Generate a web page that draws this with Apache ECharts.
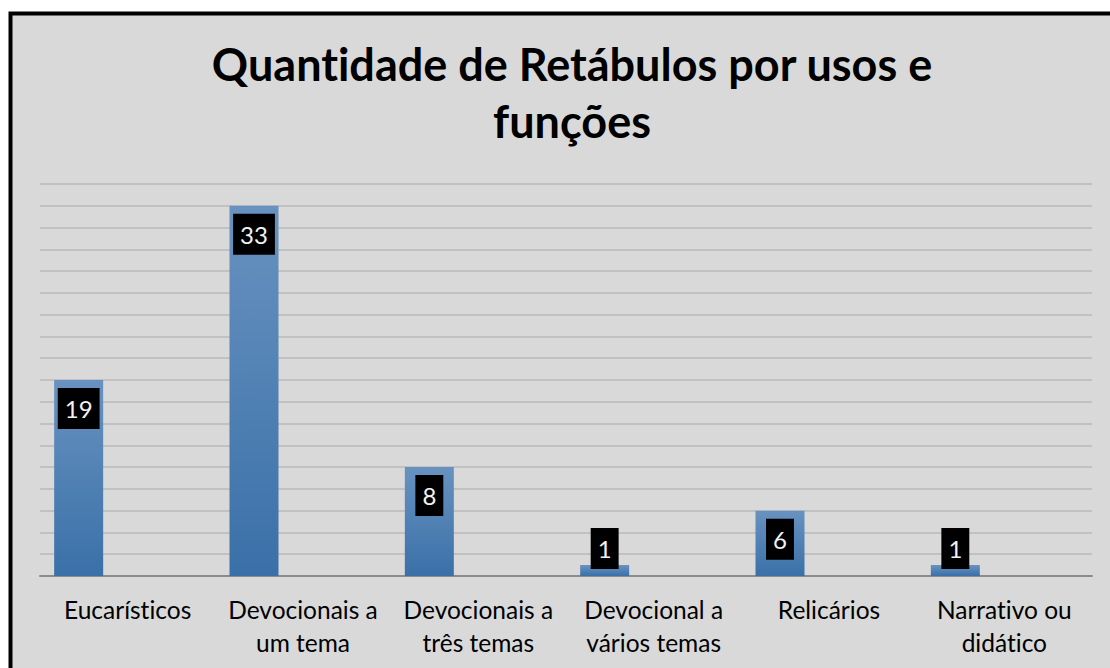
<!DOCTYPE html>
<html>
<head>
<meta charset="utf-8">
<script src="https://cdn.jsdelivr.net/npm/echarts@6/dist/echarts.min.js"></script>
<style>
html,body{margin:0;padding:0;background:#fff;}
#c{width:1110px;height:668px;}
#c text{font-variant-ligatures:none !important;font-feature-settings:"liga" 0, "clig" 0 !important;}
</style>
</head>
<body>
<div id="c"></div>
<script>
const titleText = 'Quantidade de Retábulos por usos e\nfunções';
const categories = ['Eucarísticos', 'Devocionais a\num tema', 'Devocionais a\ntrês temas', 'Devocional a\nvários temas', 'Relicários', 'Narrativo ou\ndidático'];
// bar heights as drawn in the picture
const barValues = [18, 34, 10, 1, 6, 1];
// data labels as printed on the bars
const labelTexts = ['19', '33', '8', '1', '6', '1'];
const axisMin = 0;
const axisMax = 36;
const axisInterval = 2;

const chart = echarts.init(document.getElementById('c'), null, {renderer: 'svg'});

const data = barValues.map((v, i) => {
  const small = v < 3;
  return {
    value: v,
    label: small ? {position: 'insideBottom', distance: 7} : {position: 'insideTop', distance: 8}
  };
});

chart.setOption({
  backgroundColor: '#ffffff',
  animation: false,
  graphic: [{
    type: 'rect',
    z: -10,
    silent: true,
    shape: {x: 10.5, y: 13.5, width: 1200, height: 800},
    style: {fill: '#d9d9d9', stroke: '#000000', lineWidth: 4}
  }],
  title: {
    text: titleText,
    left: 567,
    textAlign: 'center',
    top: 30,
    textStyle: {
      fontFamily: 'Lato',
      fontWeight: 'bold',
      fontSize: 45,
      lineHeight: 57,
      color: '#000000'
    }
  },
  grid: {left: 40, right: 18, top: 184, bottom: 92, containLabel: false},
  xAxis: {
    type: 'category',
    data: categories,
    axisLine: {show: true, lineStyle: {color: '#8c8c8c', width: 2}},
    axisTick: {show: false},
    axisLabel: {
      interval: 0,
      fontFamily: 'Lato',
      fontSize: 24.5,
      lineHeight: 33,
      color: '#000000',
      margin: 17
    }
  },
  yAxis: {
    type: 'value',
    min: axisMin,
    max: axisMax,
    interval: axisInterval,
    axisLine: {show: false},
    axisTick: {show: false},
    axisLabel: {show: false},
    splitLine: {lineStyle: {color: '#b9b9b9', width: 1.5}}
  },
  series: [
    {
      type: 'bar',
      data: data,
      barWidth: 49,
      barGap: '0%',
      itemStyle: {
        color: new echarts.graphic.LinearGradient(0, 0, 0, 1, [
          {offset: 0, color: '#6892c0'},
          {offset: 1, color: '#3a70a8'}
        ])
      },
      label: {
        show: true,
        formatter: p => labelTexts[p.dataIndex],
        fontFamily: 'Lato',
        fontSize: 24,
        lineHeight: 25,
        color: '#f2f2f2',
        backgroundColor: '#000000',
        padding: [8, 7, 8, 7]
      }
    },
    {type: 'bar', data: [], barWidth: 49, barGap: '0%'},
    {type: 'bar', data: [], barWidth: 49, barGap: '0%'}
  ]
});
</script>
</body>
</html>
